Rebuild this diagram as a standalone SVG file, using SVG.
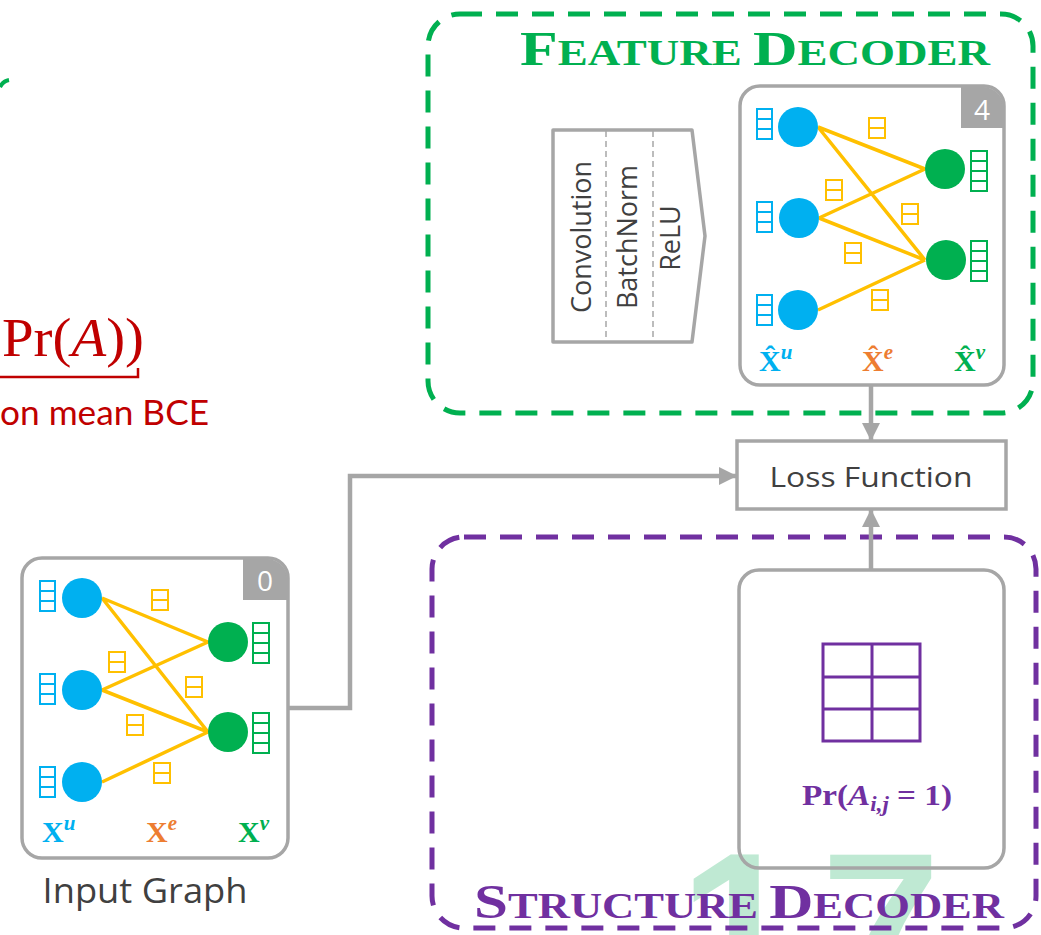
<svg xmlns="http://www.w3.org/2000/svg" width="1041" height="935" viewBox="0 0 1041 935">
<style>
.box{fill:none;stroke:#A6A6A6;stroke-width:3.5}
.bn{fill:#00B0F0}
.gn{fill:#00B050}
.edge{stroke:#FFC000;stroke-width:3.5;fill:none}
.vu{fill:none;stroke:#00B0F0;stroke-width:2}
.vv{fill:none;stroke:#00B050;stroke-width:2}
.ve{fill:none;stroke:#FFC000;stroke-width:2}
.conn{fill:none;stroke:#A6A6A6;stroke-width:4.5}
.lbl{font-family:"Liberation Serif",serif;font-weight:bold;font-size:30px}
.sup{font-style:italic;font-size:21px}
.gray{font-family:"Open Sans","Noto Sans",sans-serif;fill:#404040}
.title{font-family:"Liberation Serif",serif;font-weight:bold}
.wm{font-family:"Liberation Sans",sans-serif;font-weight:bold;font-size:215px;fill:#BFE9D3}
</style>
<defs>
<g id="vecu"><rect class="vu" x="0" y="0" width="15" height="30"/><path class="vu" d="M0,10H15M0,20H15"/></g>
<g id="vecv"><rect class="vv" x="0" y="0" width="16" height="40"/><path class="vv" d="M0,10H16M0,20H16M0,30H16"/></g>
<g id="vece"><rect class="ve" x="0" y="0" width="16" height="20"/><path class="ve" d="M0,10H16"/></g>
<marker id="arr" viewBox="0 0 10 10" refX="10" refY="5" markerWidth="4" markerHeight="4" orient="auto" markerUnits="strokeWidth">
<path d="M0,0L10,5L0,10Z" fill="#A6A6A6"/>
</marker>
</defs>
<rect width="1041" height="935" fill="#FFFFFF"/>

<g id="left-fragment">
<path d="M0,87 Q3,81 9,80" fill="none" stroke="#00B050" stroke-width="4"/>
<text x="2" y="356" font-family="Liberation Serif,serif" font-size="54" fill="#C00000" textLength="142" lengthAdjust="spacingAndGlyphs">Pr(<tspan font-style="italic">A</tspan>))</text>
<path d="M0,377H138V368" fill="none" stroke="#C00000" stroke-width="2.5"/>
<text x="209" y="425" text-anchor="end" font-family="Lato,sans-serif" font-size="34" fill="#C00000" textLength="209" lengthAdjust="spacingAndGlyphs">on mean BCE</text>
</g>

<g id="watermark">
<text class="wm" x="679" y="1003">1</text>
<text class="wm" x="821" y="1003">7</text>
</g>

<g id="feature-decoder">
<rect x="428" y="14" width="605" height="399" rx="32" fill="none" stroke="#00B050" stroke-width="5" stroke-dasharray="22 14"/>
<text class="title" x="520" y="65" fill="#00B050" textLength="470" lengthAdjust="spacingAndGlyphs"><tspan font-size="48">F</tspan><tspan font-size="35">EATURE </tspan><tspan font-size="48">D</tspan><tspan font-size="35">ECODER</tspan></text>
</g>

<g id="conv-block">
<path d="M553,130H692L705,236L692,342H553Z" fill="#FFFFFF" stroke="#A6A6A6" stroke-width="3.5" stroke-linejoin="round"/>
<path d="M606,131V341M653,131V341" stroke="#A6A6A6" stroke-width="1.5" stroke-dasharray="6 4"/>
<text class="gray" font-size="27" text-anchor="middle" transform="translate(591,237) rotate(-90)">Convolution</text>
<text class="gray" font-size="27" text-anchor="middle" transform="translate(637,237) rotate(-90)">BatchNorm</text>
<text class="gray" font-size="27" text-anchor="middle" transform="translate(680,238) rotate(-90)">ReLU</text>
</g>

<g id="output-graph">
<path d="M961,87H984A20,20 0 0 1 1003,106V128H961Z" fill="#A6A6A6"/>
<text x="982" y="120" text-anchor="middle" font-family="Open Sans,sans-serif" font-size="28" fill="#FFFFFF">4</text>
<rect class="box" x="740" y="86" width="264" height="299" rx="20"/>
<path class="edge" d="M818,127L925,169M818,127L925,260M819,218L925,169M819,218L925,260M818,310L925,260"/>
<circle class="bn" cx="798" cy="127" r="20"/>
<circle class="bn" cx="799" cy="218" r="20"/>
<circle class="bn" cx="798" cy="310" r="20"/>
<circle class="gn" cx="945" cy="169" r="20"/>
<circle class="gn" cx="946" cy="260" r="20"/>
<use href="#vecu" x="757" y="109"/>
<use href="#vecu" x="757" y="202"/>
<use href="#vecu" x="757" y="295"/>
<use href="#vecv" x="971" y="151"/>
<use href="#vecv" x="971" y="241"/>
<use href="#vece" x="869" y="118"/>
<use href="#vece" x="826" y="180"/>
<use href="#vece" x="902" y="204"/>
<use href="#vece" x="845" y="243"/>
<use href="#vece" x="872" y="290"/>
<text class="lbl" x="759" y="371" fill="#00B0F0">X̂<tspan class="sup" dy="-12">u</tspan></text>
<text class="lbl" x="862" y="371" fill="#ED7D31">X̂<tspan class="sup" dy="-12">e</tspan></text>
<text class="lbl" x="954" y="371" fill="#00B050">X̂<tspan class="sup" dy="-12">v</tspan></text>
</g>

<g id="loss-function">
<rect x="737" y="441" width="269" height="68" fill="#FFFFFF" stroke="#A6A6A6" stroke-width="3.5"/>
<text class="gray" x="871" y="487" font-size="28" text-anchor="middle" textLength="203" lengthAdjust="spacingAndGlyphs">Loss Function</text>
</g>

<g id="structure-decoder">
<rect x="432" y="537" width="604" height="391" rx="32" fill="none" stroke="#7030A0" stroke-width="5" stroke-dasharray="22 14"/>
<text class="title" x="474" y="918" fill="#7030A0" textLength="530" lengthAdjust="spacingAndGlyphs"><tspan font-size="48">S</tspan><tspan font-size="35">TRUCTURE </tspan><tspan font-size="48">D</tspan><tspan font-size="35">ECODER</tspan></text>
</g>

<g id="adjacency">
<rect class="box" x="739" y="570" width="265" height="298" rx="20"/>
<rect x="823" y="644" width="97" height="97" fill="none" stroke="#7030A0" stroke-width="3"/>
<path d="M872,644V741M823,677H920M823,709H920" stroke="#7030A0" stroke-width="3"/>
<text x="802" y="805" font-family="Liberation Serif,serif" font-weight="bold" font-size="29" fill="#7030A0" textLength="150" lengthAdjust="spacingAndGlyphs">Pr(<tspan font-style="italic">A</tspan><tspan font-style="italic" font-size="20" dy="6">i,j</tspan><tspan dy="-6"> = 1)</tspan></text>
</g>

<g id="input-graph">
<path d="M243,559H268A20,20 0 0 1 287,578V600H243Z" fill="#A6A6A6"/>
<text x="265" y="591" text-anchor="middle" font-family="Open Sans,sans-serif" font-size="28" fill="#FFFFFF">0</text>
<rect class="box" x="22" y="558" width="266" height="300" rx="20"/>
<path class="edge" d="M102,598L208,642M102,598L208,732M102,690L208,642M102,690L208,732M102,782L208,732"/>
<circle class="bn" cx="82" cy="598" r="20"/>
<circle class="bn" cx="82" cy="690" r="20"/>
<circle class="bn" cx="82" cy="782" r="20"/>
<circle class="gn" cx="228" cy="642" r="20"/>
<circle class="gn" cx="228" cy="732" r="20"/>
<use href="#vecu" x="40" y="581"/>
<use href="#vecu" x="40" y="674"/>
<use href="#vecu" x="40" y="767"/>
<use href="#vecv" x="253" y="623"/>
<use href="#vecv" x="253" y="713"/>
<use href="#vece" x="152" y="590"/>
<use href="#vece" x="109" y="652"/>
<use href="#vece" x="186" y="677"/>
<use href="#vece" x="127" y="715"/>
<use href="#vece" x="154" y="763"/>
<text class="lbl" x="42" y="842" fill="#00B0F0">X<tspan class="sup" dy="-12">u</tspan></text>
<text class="lbl" x="146" y="842" fill="#ED7D31">X<tspan class="sup" dy="-12">e</tspan></text>
<text class="lbl" x="238" y="842" fill="#00B050">X<tspan class="sup" dy="-12">v</tspan></text>
<text class="gray" x="145" y="903" font-size="35" text-anchor="middle" textLength="205" lengthAdjust="spacingAndGlyphs">Input Graph</text>
</g>

<g id="connectors">
<path class="conn" d="M871,385V441" marker-end="url(#arr)"/>
<path class="conn" d="M871,570V509" marker-end="url(#arr)"/>
<path class="conn" d="M288,708H350V476H737" marker-end="url(#arr)"/>
</g>
</svg>
